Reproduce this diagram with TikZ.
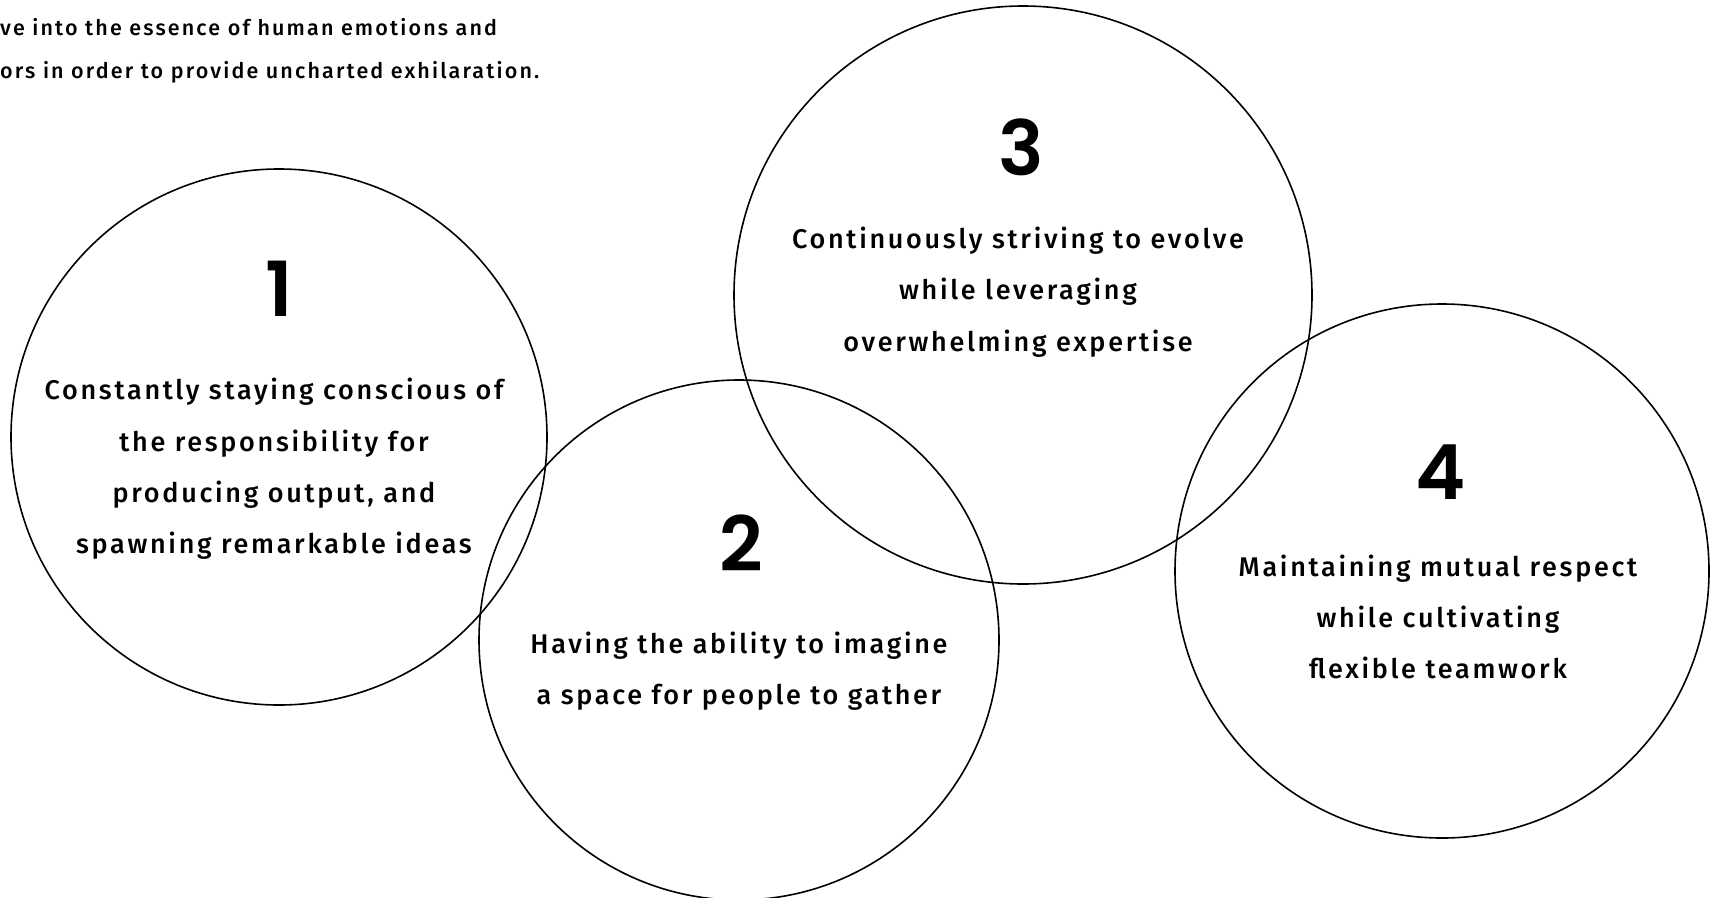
\documentclass[tikz,border=0pt]{standalone}
\usepackage{fontspec}
\newfontfamily\bodyfont{Fira Sans Medium}[LetterSpace=10]
\newfontfamily\numfont{Poppins SemiBold}
\tikzset{
  ring/.style={circle, draw=black, line width=1.6pt, inner sep=0pt},
  num/.style={font=\numfont\fontsize{76}{80}\selectfont, inner sep=0pt},
  body/.style={font=\bodyfont\fontsize{27}{51.3}\selectfont, align=center, inner sep=0pt},
  intro/.style={font=\bodyfont\fontsize{21.5}{42.5}\selectfont, align=left, inner sep=0pt, anchor=west}
}
\begin{document}
\begin{tikzpicture}[x=1pt,y=-1pt]
\useasboundingbox (0,0) rectangle (1712,897);
\fill[white] (0,0) rectangle (1712,897);
% circles
\node[ring, minimum size=536pt] (c1) at (279,437) {};
\node[ring, minimum size=520pt] (c2) at (739,640) {};
\node[ring, minimum size=578pt] (c3) at (1023,295) {};
\node[ring, minimum size=534pt] (c4) at (1442,571) {};
% intro text
\node[intro] (intro) at (0,51) {ve into the essence of human emotions and\\ors in order to provide uncharted exhilaration.};
% numbers
\node[num] (n1) at (279,289) {1};
\node[num] (n2) at (741,543) {2};
\node[num] (n3) at (1021,147) {3};
\node[num] (n4) at (1441,472) {4};
% texts
\node[body] (t1) at (274,469) {Constantly staying conscious of\\the responsibility for\\producing output, and\\spawning remarkable ideas};
\node[body] (t2) at (739,671) {Having the ability to imagine\\a space for people to gather};
\node[body] (t3) at (1018,292) {Continuously striving to evolve\\while leveraging\\overwhelming expertise};
\node[body] (t4) at (1438,617) {Maintaining mutual respect\\while cultivating\\flexible teamwork};
\end{tikzpicture}
\end{document}
